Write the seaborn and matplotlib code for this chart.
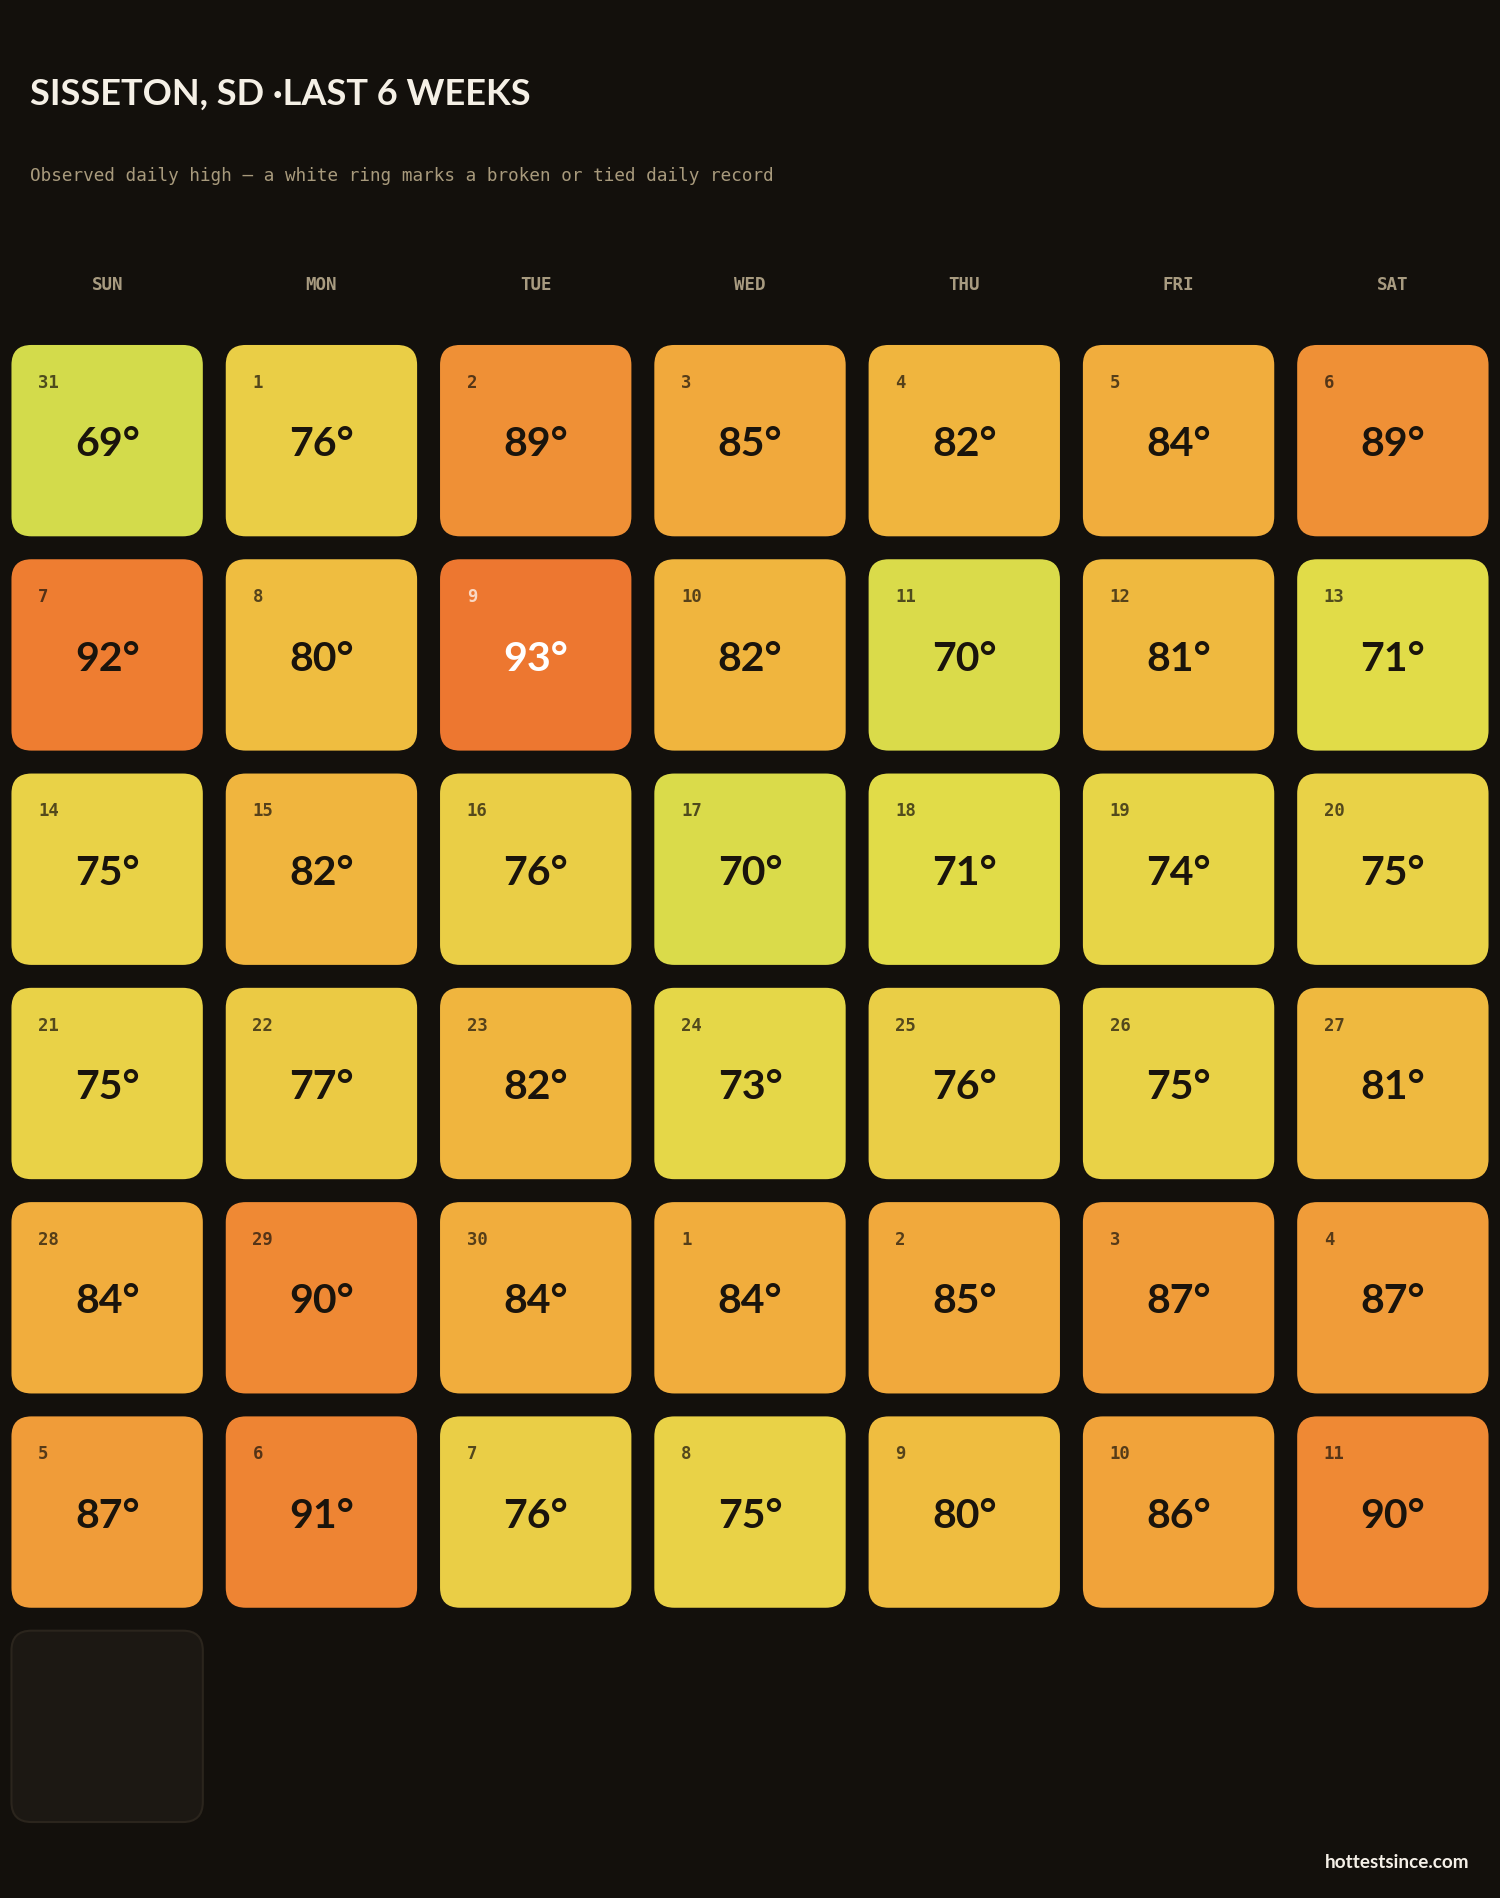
import numpy as np
import matplotlib
matplotlib.use("Agg")
import matplotlib.pyplot as plt
from matplotlib.patches import FancyBboxPatch
from matplotlib.colors import LinearSegmentedColormap, Normalize
import seaborn as sns

# ---------------- data ----------------
title = "SISSETON, SD ·LAST 6 WEEKS"
subtitle = "Observed daily high — a white ring marks a broken or tied daily record"
footer = "hottestsince.com"
weekdays = ["SUN", "MON", "TUE", "WED", "THU", "FRI", "SAT"]
day_numbers = [31] + list(range(1, 31)) + list(range(1, 12))
highs = [
    69, 76, 89, 85, 82, 84, 89,
    92, 80, 93, 82, 70, 81, 71,
    75, 82, 76, 70, 71, 74, 75,
    75, 77, 82, 73, 76, 75, 81,
    84, 90, 84, 84, 85, 87, 87,
    87, 91, 76, 75, 80, 86, 90,
]
records = [False] * len(highs)
n_placeholders = 1

# ---------------- style ----------------
BG = "#13100c"
sns.set_theme(style="dark", rc={"figure.facecolor": BG, "axes.facecolor": BG})

scale_vals = [69, 71, 75, 80, 85, 90, 93]
scale_cols = ["#d3db4b", "#e1dc48", "#e9d247", "#efbd40", "#f1a93c", "#ef8a34", "#ed7730"]
vmin, vmax = min(scale_vals), max(scale_vals)
cmap = LinearSegmentedColormap.from_list(
    "heat", [((v - vmin) / (vmax - vmin), c) for v, c in zip(scale_vals, scale_cols)])
norm = Normalize(vmin, vmax)

W, H = 1500, 1899
fig = plt.figure(figsize=(W / 100, H / 100), dpi=100)
fig.patch.set_facecolor(BG)

pitch = W / 7.0
top_px = 334.5
ax = fig.add_axes([0, (H - top_px - 7 * pitch) / H, 1, 7 * pitch / H])
ax.set_facecolor(BG)
ax.set_xlim(0, 7)
ax.set_ylim(7, 0)
ax.axis("off")

inset = 0.0535
size = 1 - 2 * inset
radius = 20 / pitch

mono = "DejaVu Sans Mono"
disp = "Lato"

for i, (d, t) in enumerate(zip(day_numbers, highs)):
    r, c = divmod(i, 7)
    col = cmap(norm(t))
    box = FancyBboxPatch((c + inset, r + inset), size, size,
                         boxstyle=f"round,pad=0,rounding_size={radius}",
                         facecolor=col, edgecolor="none", zorder=2)
    ax.add_patch(box)
    if records[i]:
        ring = FancyBboxPatch((c + inset, r + inset), size, size,
                              boxstyle=f"round,pad=0,rounding_size={radius}",
                              facecolor="none", edgecolor="white", lw=3, zorder=3)
        ax.add_patch(ring)
    hot = t >= 93
    tc = "#ffffff" if hot else "#1a140c"
    ax.text(c + 0.178, r + 0.225, str(d), color=tc, alpha=0.72,
            fontsize=12.4, fontweight="bold", family=mono,
            ha="left", va="center", zorder=4)
    ax.text(c + 0.5, r + 0.515, f"{t}°", color=tc, fontsize=29.5,
            fontweight="bold", family=disp, ha="center", va="center", zorder=4)

n = len(highs)
for k in range(n_placeholders):
    r, c = divmod(n + k, 7)
    ax.add_patch(FancyBboxPatch((c + inset, r + inset), size, size,
                                boxstyle=f"round,pad=0,rounding_size={radius}",
                                facecolor="#1c1813", edgecolor="#2b251d",
                                lw=1.5, zorder=2))

for c, wd in enumerate(weekdays):
    ax.text(c + 0.5, (285.5 - top_px) / pitch, wd, color="#a89b80",
            fontsize=12.6, fontweight="bold", family=mono,
            ha="center", va="center", clip_on=False)

fig.text(30 / W, 1 - 94 / H, title, color="#f5f0e6", fontsize=26,
         fontweight="bold", family=disp, ha="left", va="center")
fig.text(30 / W, 1 - 176 / H, subtitle, color="#a89a7c", fontsize=12.7,
         family=mono, ha="left", va="center")
fig.text(1469 / W, 1 - 1863 / H, footer, color="#f5f0e8", fontsize=13.6,
         fontweight="bold", family=disp, ha="right", va="center")

fig.savefig("out.png", dpi=100, facecolor=BG)
